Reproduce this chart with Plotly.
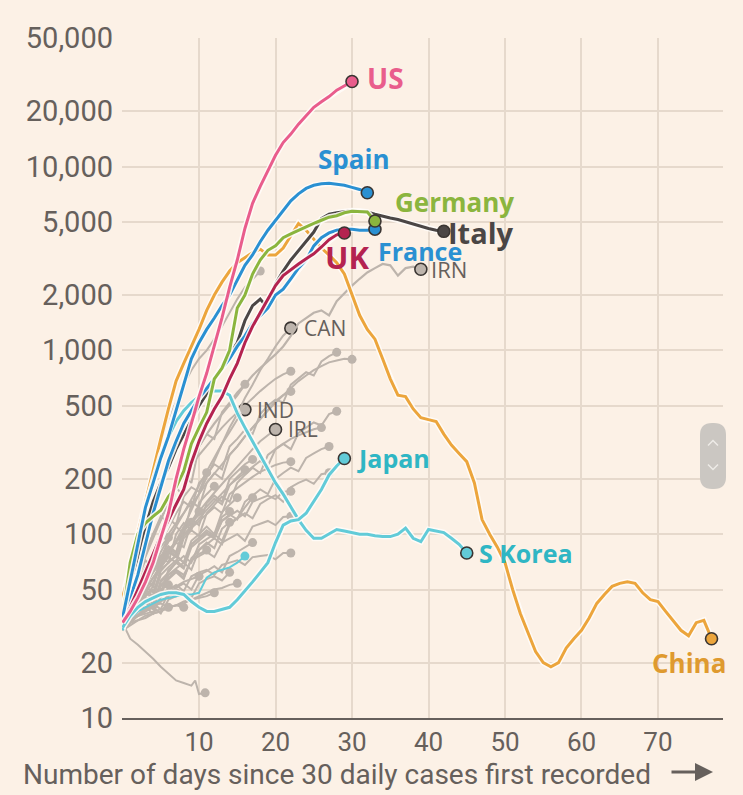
import plotly.graph_objects as go
import numpy as np

# ---------------- data (daily new cases, 7-day rolling avg, days since 30 daily cases) -------------
us = [33, 38, 45, 55, 70, 95, 130, 200, 290, 400, 560, 750, 1050, 1500, 2200, 3100, 4600, 6300,
      7800, 9500, 11500, 13500, 15000, 17000, 19000, 21000, 22500, 24000, 26000, 27500, 29000]
spain = [35, 55, 90, 140, 190, 260, 340, 470, 650, 900, 1100, 1300, 1500, 1750, 2000, 2400, 2900,
         3300, 3900, 4500, 5100, 5800, 6500, 7100, 7600, 7900, 8050, 8100, 8000, 7900, 7700, 7500, 7200]
france = [35, 45, 60, 90, 130, 180, 250, 320, 400, 470, 550, 620, 700, 800, 900, 1050, 1200, 1400,
          1550, 1700, 2000, 2150, 2450, 2800, 3100, 3700, 4100, 4350, 4500, 4550, 4550, 4500, 4500, 4560]
germany = [35, 70, 100, 115, 125, 135, 160, 180, 220, 310, 380, 460, 700, 800, 1000, 1700, 2000,
           2600, 3100, 3500, 3700, 4100, 4300, 4500, 4700, 4900, 5100, 5300, 5400, 5600, 5700, 5700,
           5650, 5050]
italy = [40, 55, 75, 110, 150, 190, 230, 290, 350, 420, 500, 580, 700, 820, 950, 1100, 1450, 1750,
         1900, 1700, 2300, 2700, 3100, 3500, 3900, 4400, 5200, 5500, 5600, 5700, 5750, 5700, 5650,
         5500, 5350, 5250, 5150, 5000, 4850, 4700, 4600, 4500, 4440]
uk = [35, 40, 50, 62, 78, 98, 120, 145, 175, 245, 320, 400, 480, 560, 700, 850, 1100, 1350, 1600,
      1900, 2250, 2550, 2750, 2950, 3150, 3350, 3650, 4000, 4250, 4345]
japan = [31, 36, 40, 43, 45, 47, 48, 48, 47, 43, 40, 38, 38, 39, 40, 44, 49, 55, 62, 70, 90, 112,
         118, 120, 130, 150, 175, 210, 235, 258]
s_korea = [30, 55, 90, 140, 200, 270, 340, 410, 470, 520, 560, 590, 600, 600, 570, 455, 380, 320,
           270, 230, 190, 165, 140, 120, 105, 95, 95, 100, 106, 104, 102, 100, 100, 98, 97, 97, 100,
           108, 95, 91, 106, 104, 102, 95, 88, 79]
hong_kong = [32, 35, 38, 40, 42, 44, 45, 46, 47, 47, 48, 58, 62, 64, 66, 70, 76]
china = [45, 65, 100, 150, 220, 330, 480, 680, 850, 1050, 1300, 1650, 2000, 2350, 2700, 3000, 3200,
         3400, 3550, 3300, 3300, 3600, 4200, 4900, 4500, 4000, 3600, 3300, 3000, 2600, 2000, 1550,
         1300, 1150, 900, 700, 570, 560, 480, 430, 420, 410, 350, 305, 275, 248, 190, 120, 100, 85,
         70, 50, 37, 29, 23, 20, 19, 20, 24, 27, 30, 35, 42, 47, 52, 54, 55, 54, 48, 44, 43, 38, 34,
         30, 28, 33, 34, 27]
iran = [35, 45, 60, 80, 100, 120, 150, 185, 220, 260, 300, 350, 400, 450, 500, 570, 650, 730, 800,
        870, 950, 1050, 1200, 1400, 1500, 1600, 1650, 1550, 1850, 2050, 2250, 2450, 2650, 2800, 2950,
        2900, 2550, 2800, 2850, 2760]
canada = [30, 34, 40, 48, 55, 65, 78, 92, 110, 135, 165, 200, 250, 310, 380, 450, 550, 650, 780, 900,
          1050, 1200, 1320]
india = [30, 36, 44, 52, 62, 75, 90, 110, 130, 155, 185, 220, 260, 310, 360, 420, 476]
ireland = [31, 38, 46, 55, 62, 70, 80, 92, 104, 118, 132, 150, 168, 188, 210, 235, 260, 290, 320, 345,
           371]

# other countries (unlabelled grey lines)
g01 = [35, 60, 100, 160, 230, 320, 420, 520, 650, 780, 900, 1000, 1150, 1350, 1600, 1900, 2200, 2450, 2700]
g02 = [32, 40, 52, 60, 75, 90, 110, 130, 150, 140, 190, 210, 240, 225, 300, 330, 370, 350, 450, 500,
       540, 520, 650, 700, 760, 730, 870, 930, 975]
g03 = [30, 38, 45, 55, 65, 80, 95, 110, 100, 145, 165, 190, 215, 200, 270, 300, 340, 380, 420, 470,
       520, 570, 620, 680, 730, 780, 820, 860, 880, 900, 893]
g04 = [35, 48, 60, 75, 95, 120, 150, 180, 160, 240, 270, 300, 340, 380, 420, 460, 500, 550, 600, 650,
       700, 740, 770]
g05 = [33, 45, 60, 80, 100, 125, 115, 180, 210, 190, 300, 350, 330, 460, 520, 590, 653]
g06 = [31, 40, 48, 58, 70, 65, 100, 115, 130, 150, 140, 190, 215, 240, 270, 300, 340, 380, 430, 480,
       530, 570, 598]
g07 = [30, 35, 42, 50, 58, 66, 75, 70, 95, 105, 98, 130, 145, 160, 150, 190, 210, 230, 215, 270,
       290, 310, 290, 355, 380, 405, 390, 450, 466]
g08 = [30, 34, 38, 44, 40, 56, 62, 70, 65, 85, 92, 100, 95, 118, 128, 120, 150, 162, 175, 165, 200,
       215, 230, 220, 260, 275, 290, 300]
g09 = [32, 38, 46, 55, 64, 72, 80, 75, 98, 108, 118, 128, 140, 130, 165, 178, 192, 205, 218, 228, 238,
       245, 248]
g10 = [30, 36, 40, 46, 52, 48, 64, 70, 76, 70, 88, 94, 100, 92, 115, 122, 130, 122, 146, 155, 163,
       150, 180, 190, 198, 188, 212, 216]
g11 = [34, 40, 46, 52, 48, 64, 70, 76, 70, 88, 95, 102, 96, 118, 126, 134, 125, 150, 156, 162, 155,
       170, 171]
g12 = [31, 35, 40, 45, 42, 55, 60, 64, 60, 72, 76, 80, 75, 90, 95, 100, 92, 110, 114, 118, 112, 124, 125]
g13 = [30, 33, 36, 40, 37, 46, 50, 53, 49, 59, 62, 64, 60, 68, 70, 72, 68, 75, 76, 77, 73, 79, 79]
g15 = [32, 40, 48, 56, 52, 75, 86, 80, 108, 120, 112, 147, 162, 150, 200, 220, 240, 255]
g16 = [35, 42, 50, 58, 66, 74, 82, 90, 100, 110, 122, 135, 150, 165, 185, 205, 224]
g17 = [33, 45, 58, 72, 66, 105, 122, 112, 160, 180, 170, 216]
g18 = [30, 38, 46, 55, 65, 76, 70, 100, 115, 105, 148, 165, 182]
g19 = [32, 38, 44, 50, 46, 63, 70, 77, 70, 92, 100, 110, 100, 132, 145, 158]
g20 = [34, 38, 42, 46, 50, 46, 60, 65, 70, 64, 82, 88, 95, 88, 112, 122, 140, 158]
g21 = [31, 36, 42, 48, 45, 60, 66, 72, 66, 88, 96, 105, 98, 124, 133]
g22 = [33, 40, 48, 56, 52, 75, 85, 78, 106, 118, 133]
g23 = [30, 34, 38, 42, 39, 52, 57, 62, 57, 74, 82, 90, 84, 107, 116]
g24 = [32, 40, 48, 56, 52, 72, 82, 76, 104, 116]
g25 = [34, 44, 55, 66, 76, 86, 96]
g26 = [31, 35, 39, 43, 40, 53, 58, 63, 58, 73, 78, 82]
g27 = [30, 33, 36, 39, 42, 39, 48, 51, 54, 50, 60, 63, 67, 62, 76, 80, 85, 90]
g28 = [32, 34, 36, 38, 40, 37, 44, 46, 48, 45, 54, 57, 59, 56, 62]
g29 = [30, 32, 34, 35, 37, 38, 40, 41, 43, 44, 46, 48, 50, 51, 53, 54]
g30 = [33, 36, 39, 42, 45, 47, 50, 52, 55, 57, 59]
g31 = [35, 38, 41, 44, 47, 50, 53]
g32 = [32, 34, 36, 38, 41, 43, 46, 48]
g33 = [31, 33, 34, 36, 37, 38, 40, 41, 42, 44, 45, 46, 48]
g34 = [34, 35, 36, 37, 38, 39, 40]
g35 = [36, 37, 39, 40, 41, 42, 40, 41, 40]
g42 = [30, 36, 42, 50, 58, 68, 78, 90, 85, 115, 128, 142, 156, 145, 185, 200, 215, 230, 250, 235,
       290, 310, 330, 345, 360, 372, 380]
g36_days = [0, 1, 2, 3, 4, 5, 6, 7, 8, 9, 9.5, 10, 10.8]
g36 = [33, 27, 25, 23, 21, 19, 17.5, 16, 15.5, 15, 16, 13.5, 13.7]

y_tickvals = [10, 20, 50, 100, 200, 500, 1000, 2000, 5000, 10000, 20000, 50000]
y_ticktext = ["10", "20", "50", "100", "200", "500", "1,000", "2,000", "5,000", "10,000", "20,000", "50,000"]
x_tickvals = [10, 20, 30, 40, 50, 60, 70]

# ---------------- styling ----------------
BG = "#fcf1e6"
GRID = "#e6d9cc"
TXT = "#66605c"
GREY = "#bdb4ac"
OUTLINE = "#3a3532"
FONT = "Roboto, Arial, sans-serif"
LFONT = "Open Sans, Roboto, sans-serif"

C_US = "#e95d8c"
C_BLUE = "#2a90d2"
C_GREEN = "#8bb53e"
C_ITALY = "#4b4645"
C_UK = "#b42350"
C_CYAN = "#62cbd8"
C_CYAN_TXT = "#2fb6c4"
C_CHINA = "#eca53c"
C_CHINA_TXT = "#df9a2f"

fig = go.Figure()


def days_of(vals):
    return list(range(len(vals)))


def add_grey(vals, days=None):
    d = days if days is not None else days_of(vals)
    fig.add_trace(go.Scatter(x=d, y=vals, mode="lines", line=dict(color=GREY, width=2),
                             hoverinfo="skip", showlegend=False))
    fig.add_trace(go.Scatter(x=[d[-1]], y=[vals[-1]], mode="markers",
                             marker=dict(size=9, color=GREY), hoverinfo="skip", showlegend=False))


for g in [g01, g02, g03, g04, g05, g06, g07, g08, g09, g10, g11, g12, g13, g15, g16, g17, g18,
          g19, g20, g21, g22, g23, g24, g25, g26, g27, g28, g29, g30, g31, g32, g33, g34, g35, g42]:
    add_grey(g)
add_grey(g36, g36_days)


def add_main(vals, color, width=3, halo=True, outline=True, msize=12, lcolor=None):
    d = days_of(vals)
    if halo:
        fig.add_trace(go.Scatter(x=d, y=vals, mode="lines",
                                 line=dict(color="rgba(255,252,248,0.9)", width=width + 3),
                                 hoverinfo="skip", showlegend=False))
    fig.add_trace(go.Scatter(x=d, y=vals, mode="lines", line=dict(color=lcolor or color, width=width),
                             hoverinfo="skip", showlegend=False))
    fig.add_trace(go.Scatter(x=[d[-1]], y=[vals[-1]], mode="markers",
                             marker=dict(size=msize, color=color,
                                         line=dict(color=OUTLINE, width=1.6 if outline else 0)),
                             hoverinfo="skip", showlegend=False))


# labelled grey countries
add_main(ireland, GREY, width=2, halo=False)
add_main(india, GREY, width=2, halo=False)
add_main(canada, GREY, width=2, halo=False)
add_main(iran, GREY, width=2.2, halo=False)
add_main(hong_kong, C_CYAN, width=2, halo=False, outline=False, msize=9)
add_main(china, C_CHINA, width=3)
add_main(s_korea, C_CYAN, width=3)
add_main(japan, C_CYAN, width=3)
add_main(italy, C_ITALY, width=3)
add_main(france, C_BLUE, width=3)
add_main(uk, C_UK, width=3)
add_main(germany, C_GREEN, width=3)
add_main(spain, C_BLUE, width=3)
add_main(us, C_US, width=3)


# ---------------- labels ----------------
def label(vals, text, color, size, xshift, yshift, xanchor="left", bold=True):
    fig.add_annotation(x=len(vals) - 1, y=np.log10(vals[-1]), xref="x", yref="y",
                       text=("<b>%s</b>" % text) if bold else text, showarrow=False,
                       xanchor=xanchor, yanchor="middle", xshift=xshift, yshift=yshift,
                       font=dict(family=LFONT, size=size, color=color), borderpad=0)


label(us, "US", C_US, 28, 14, 3)
label(spain, "Spain", C_BLUE, 26, -13, 34, xanchor="center")
label(germany, "Germany", C_GREEN, 26, 19, 19)
label(italy, "Italy", C_ITALY, 29, 3, -1)
label(france, "France", C_BLUE, 25, 2, -22)
label(uk, "UK", C_UK, 31, 3, -24, xanchor="center")
label(iran, "IRN", TXT, 22, 9, 0, bold=False)
label(canada, "CAN", TXT, 21, 12, 0, bold=False)
label(india, "IND", TXT, 21, 11, 0, bold=False)
label(ireland, "IRL", TXT, 21, 11, 0, bold=False)
label(japan, "Japan", C_CYAN_TXT, 25, 12, 0)
label(s_korea, "S Korea", C_CYAN_TXT, 25, 11, 0)
label(china, "China", C_CHINA_TXT, 26, 15, -24, xanchor="right")

# axis title + arrow
fig.add_annotation(x=-100 / 601, y=-56 / 680, xref="paper", yref="paper", showarrow=False,
                   text="Number of days since 30 daily cases first recorded", xanchor="left",
                   yanchor="middle", font=dict(family=FONT, size=28, color=TXT), borderpad=0)
fig.add_annotation(x=(713 - 122) / 601, y=-54 / 680, xref="paper", yref="paper", text="",
                   showarrow=True, ax=-43, ay=0, arrowhead=2, arrowsize=1.2, arrowwidth=3,
                   arrowcolor=TXT)

# phone scroll widget overlay
x0, x1 = (700 - 122) / 601, (726 - 122) / 601
y0, y1 = (718 - 489) / 680, (718 - 423) / 680
rx, ry = 12 / 601, 12 / 680
path = (f"M {x0+rx},{y0} L {x1-rx},{y0} Q {x1},{y0} {x1},{y0+ry} L {x1},{y1-ry} "
        f"Q {x1},{y1} {x1-rx},{y1} L {x0+rx},{y1} Q {x0},{y1} {x0},{y1-ry} L {x0},{y0+ry} "
        f"Q {x0},{y0} {x0+rx},{y0} Z")
fig.add_shape(type="path", path=path, xref="paper", yref="paper",
              fillcolor="#cbc7c2", line=dict(width=0), layer="above")
cx = (713 - 122) / 601
for cy, dy in [((718 - 443) / 680, 1), ((718 - 467) / 680, -1)]:
    fig.add_shape(type="path", xref="paper", yref="paper", layer="above",
                  path=f"M {cx-5/601},{cy-dy*2.5/680} L {cx},{cy+dy*2.5/680} L {cx+5/601},{cy-dy*2.5/680}",
                  line=dict(color="#eeebe7", width=1.5))

fig.update_layout(
    width=743, height=795,
    margin=dict(l=122, r=20, t=38, b=77),
    paper_bgcolor=BG, plot_bgcolor=BG,
    showlegend=False,
    font=dict(family=FONT, color=TXT),
    xaxis=dict(range=[-0.07, 78.5], tickvals=x_tickvals, showgrid=True, gridcolor=GRID, gridwidth=1.5,
               zeroline=False, showline=True, linecolor=TXT, linewidth=2,
               tickfont=dict(family=FONT, size=26, color=TXT), ticks="", ticklabelstandoff=0),
    yaxis=dict(type="log", range=[1, np.log10(50000)], tickvals=y_tickvals, ticktext=y_ticktext,
               showgrid=True, gridcolor=GRID, gridwidth=1.5, zeroline=False, showline=False,
               tickfont=dict(family=FONT, size=29, color=TXT), ticks="", ticklabelstandoff=8),
)

fig.write_html("out.html")
